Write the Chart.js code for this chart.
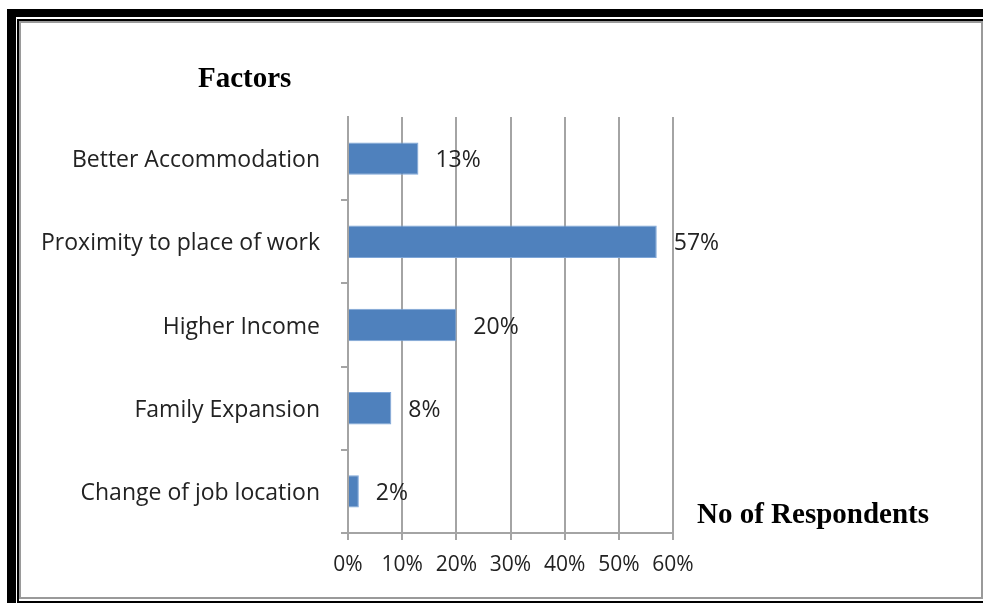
<!DOCTYPE html>
<html>
<head>
<meta charset="utf-8">
<script src="https://cdn.jsdelivr.net/npm/chart.js@4"></script>
<style>
  html, body { margin: 0; padding: 0; background: #fff; }
  body { width: 983px; height: 603px; position: relative; overflow: hidden; }
  .frame-outer { position: absolute; left: 7px; top: 9px; width: 990px; height: 610px;
    border-top: 8px solid #000; border-left: 9px solid #000; box-sizing: border-box; }
  .frame-mid { position: absolute; left: 17px; top: 19px; width: 990px; height: 584px;
    border: 2px solid #000; border-right: none; box-sizing: border-box; }
  .frame-inner { position: absolute; left: 19px; top: 21px; width: 964px; height: 578px;
    border: 2px solid #9a9a9a; box-sizing: border-box; }
  .axis-title { position: absolute; font-family: "Liberation Serif", "Times New Roman", serif;
    font-weight: bold; font-size: 29px; color: #000; line-height: 1; white-space: nowrap; }
  canvas { position: absolute; left: 0; top: 0; }
</style>
</head>
<body>
<div class="frame-outer"></div>
<div class="frame-mid"></div>
<div class="frame-inner"></div>
<canvas id="factorsChart" width="983" height="603"></canvas>
<div class="axis-title" style="left:198px; top:63px;">Factors</div>
<div class="axis-title" style="left:697px; top:499px;">No of Respondents</div>
<script>
  const factors = [
    'Better Accommodation',
    'Proximity to place of work',
    'Higher Income',
    'Family Expansion',
    'Change of job location',
  ]
  const respondentShare = [13, 57, 20, 8, 2]
  const axisMin = 0
  const axisMax = 60
  const axisStep = 10

  const fontFamily = "'Open Sans', 'Noto Sans', sans-serif"
  const labelFont = { family: fontFamily, size: 23 }
  const tickFont = { family: fontFamily, size: 21 }
  const textColour = '#222'
  const gridGrey = '#a4a4a4'

  // percentage labels written just past the end of each bar
  const barValueLabels = {
    id: 'barValueLabels',
    afterDatasetsDraw(chart) {
      const { ctx } = chart
      const meta = chart.getDatasetMeta(0)
      ctx.save()
      ctx.font = `${labelFont.size}px ${labelFont.family}`
      ctx.fillStyle = textColour
      ctx.textAlign = 'left'
      ctx.textBaseline = 'middle'
      meta.data.forEach((bar, i) => {
        ctx.fillText(`${respondentShare[i]}%`, bar.x + 17, bar.y + 2)
      })
      ctx.restore()
    },
  }

  new Chart(document.getElementById('factorsChart'), {
    type: 'bar',
    data: {
      labels: factors,
      datasets: [
        {
          data: respondentShare,
          backgroundColor: '#4f81bd',
          borderColor: '#7ea6d8',
          borderWidth: 1,
          categoryPercentage: 1,
          barPercentage: 0.39,
        },
      ],
    },
    options: {
      indexAxis: 'y',
      responsive: false,
      animation: false,
      layout: { padding: { top: 117, right: 310, left: 0, bottom: 0 } },
      plugins: {
        legend: { display: false },
        tooltip: { enabled: false },
      },
      scales: {
        x: {
          min: axisMin,
          max: axisMax,
          ticks: {
            stepSize: axisStep,
            callback: (v) => `${v}%`,
            font: tickFont,
            color: textColour,
            padding: 12,
            maxRotation: 0,
          },
          grid: { color: gridGrey, lineWidth: 2, tickLength: 7 },
          border: { display: true, color: gridGrey, width: 2 },
          afterFit: (scale) => {
            scale.height = 70
          },
        },
        y: {
          offset: true,
          ticks: { font: labelFont, color: textColour, padding: 21, labelOffset: 2 },
          grid: {
            offset: true,
            drawOnChartArea: false,
            tickLength: 7,
            lineWidth: 2,
            color: (c) => (c.index === 0 ? 'rgba(0,0,0,0)' : gridGrey),
          },
          border: { display: true, color: gridGrey, width: 2 },
          afterFit: (scale) => {
            scale.width = 348
          },
        },
      },
    },
    plugins: [barValueLabels],
  })
</script>
</body>
</html>
